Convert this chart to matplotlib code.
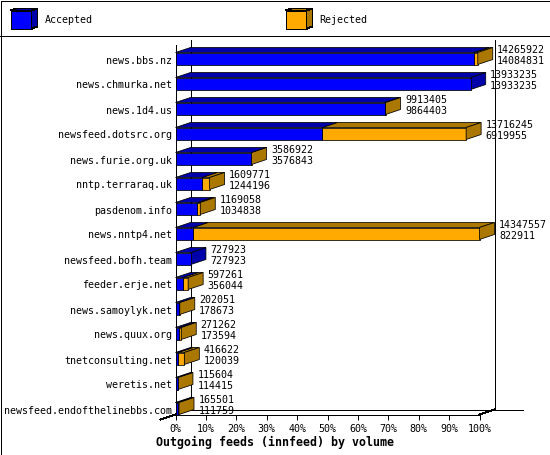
import matplotlib
matplotlib.use("Agg")
import matplotlib.pyplot as plt
from matplotlib.patches import Polygon, Rectangle

hosts = ["news.bbs.nz", "news.chmurka.net", "news.1d4.us", "newsfeed.dotsrc.org",
         "news.furie.org.uk", "nntp.terraraq.uk", "pasdenom.info", "news.nntp4.net",
         "newsfeed.bofh.team", "feeder.erje.net", "news.samoylyk.net", "news.quux.org",
         "tnetconsulting.net", "weretis.net", "newsfeed.endofthelinebbs.com"]
offered = [14265922, 13933235, 9913405, 13716245, 3586922, 1609771, 1169058, 14347557,
           727923, 597261, 202051, 271262, 416622, 115604, 165501]
accepted = [14084831, 13933235, 9864403, 6919955, 3576843, 1244196, 1034838, 822911,
            727923, 356044, 178673, 173594, 120039, 114415, 111759]
ticks = [0, 10, 20, 30, 40, 50, 60, 70, 80, 90, 100]
title = "Outgoing feeds (innfeed) by volume"

BLUE, BLUE_D = "#0000ff", "#0000aa"
ORANGE, ORANGE_D = "#ffaa00", "#aa7700"
plt.rcParams["font.family"] = "DejaVu Sans Mono"

W, H = 550, 455
LW = 0.72
BLW = 0.55
FS = 7.2
fig = plt.figure(figsize=(W / 100, H / 100), dpi=100, facecolor="white")
px = fig.add_axes([0, 0, 1, 1], zorder=0)
px.set_xlim(0, W); px.set_ylim(H, 0); px.axis("off")

X0, X100 = 175.5, 479.5
ROW0_TOP, ROW_STEP, BAR_H = 52.5, 25.0, 12.0
FLOOR = 414.5
ax = fig.add_axes([X0 / W, 1 - FLOOR / H, (X100 - X0) / W, (FLOOR - ROW0_TOP) / H], zorder=1)
ax.set_xlim(0, 100)
floor_row = (FLOOR - ROW0_TOP) / ROW_STEP
ax.set_ylim(floor_row, 0)
ax.patch.set_alpha(0)
for s in ax.spines.values():
    s.set_visible(False)

pct = 100 / (X100 - X0)             # percent per pixel
dx = 15.0 * pct
dy = 5.0 / ROW_STEP
bh = BAR_H / ROW_STEP
scale = max(offered)


def box(x1, x2, y, front, top, z):
    kw = dict(ec="black", lw=BLW, antialiased=True, clip_on=False, zorder=z)
    ax.add_patch(Polygon([(x1, y), (x1 + dx, y - dy), (x2 + dx, y - dy), (x2, y)], fc=top, **kw))
    ax.add_patch(Rectangle((x1, y), x2 - x1, bh, fc=front, **kw))


def side(x2, y, col, z):
    ax.add_patch(Polygon([(x2, y), (x2 + dx, y - dy), (x2 + dx, y + bh - dy), (x2, y + bh)],
                         fc=col, ec="black", lw=BLW, antialiased=True, clip_on=False, zorder=z))


ln = dict(color="black", lw=LW, antialiased=False, clip_on=False)
wall_top = -13 / ROW_STEP
for frac in (0, 100):
    ax.plot([frac + dx, frac + dx], [wall_top, floor_row - dy], zorder=1.5, **ln)
ax.plot([dx, 100 + dx + 28 * pct], [floor_row - dy] * 2, zorder=1.5, **ln)
ax.plot([0, 0], [wall_top + dy, floor_row], zorder=1.5, **ln)
ax.plot([0, 100], [floor_row] * 2, zorder=6, **ln)
ax.plot([-dx, dx], [floor_row + dy, floor_row - dy], zorder=1.5, **ln)
ax.plot([100, 100 + dx], [floor_row, floor_row - dy], zorder=1.5, **ln)

ax.set_xticks(ticks)
ax.set_xticklabels([f"{t}%" for t in ticks], fontsize=FS)
ax.tick_params(axis="x", length=3.6, width=LW, pad=3, color="black")
ax.set_yticks([i + 7 / ROW_STEP for i in range(len(hosts))])
ax.set_yticklabels(hosts, fontsize=FS)
ax.tick_params(axis="y", length=0, pad=2.5)

for i, (off, acc) in enumerate(zip(offered, accepted)):
    a = acc / scale * 100
    o = off / scale * 100
    z = 2 + i * 0.01
    if o > a:
        box(a, o, i, ORANGE, ORANGE_D, z)
        side(o, i, ORANGE_D, z)
    else:
        side(o, i, BLUE_D, z)
    box(0, a, i, BLUE, BLUE_D, z + 0.001)
    tx = o + dx + 4.5 * pct
    ax.text(tx, i - 2.5 / ROW_STEP, str(off), fontsize=FS, va="center", ha="left", zorder=7)
    ax.text(tx, i + 8.5 / ROW_STEP, str(acc), fontsize=FS, va="center", ha="left", zorder=7)

px.add_patch(Rectangle((0.5, 0.5), W - 1, H - 1, fc="none", ec="black", lw=LW, antialiased=False))
px.plot([0, W], [35.5, 35.5], color="black", lw=LW, antialiased=False)


def legend_icon(x, col, col_d):
    kw = dict(ec="black", lw=LW, antialiased=False)
    px.add_patch(Rectangle((x, 10.5), 21, 18, fc=col, **kw))
    px.add_patch(Polygon([(x, 10.5), (x + 6, 8.5), (x + 27, 8.5), (x + 21, 10.5)], fc=col_d, **kw))
    px.add_patch(Polygon([(x + 21, 10.5), (x + 27, 8.5), (x + 27, 26.5), (x + 21, 28.5)], fc=col_d, **kw))


legend_icon(10.5, BLUE, BLUE_D)
legend_icon(285.5, ORANGE, ORANGE_D)
px.text(44.5, 20, "Accepted", fontsize=FS, va="center", ha="left")
px.text(319.5, 20, "Rejected", fontsize=FS, va="center", ha="left")
px.text(274.5, 442, title, fontsize=8.4, fontweight="bold", va="center", ha="center")

fig.savefig("out.png", dpi=100, facecolor="white")
